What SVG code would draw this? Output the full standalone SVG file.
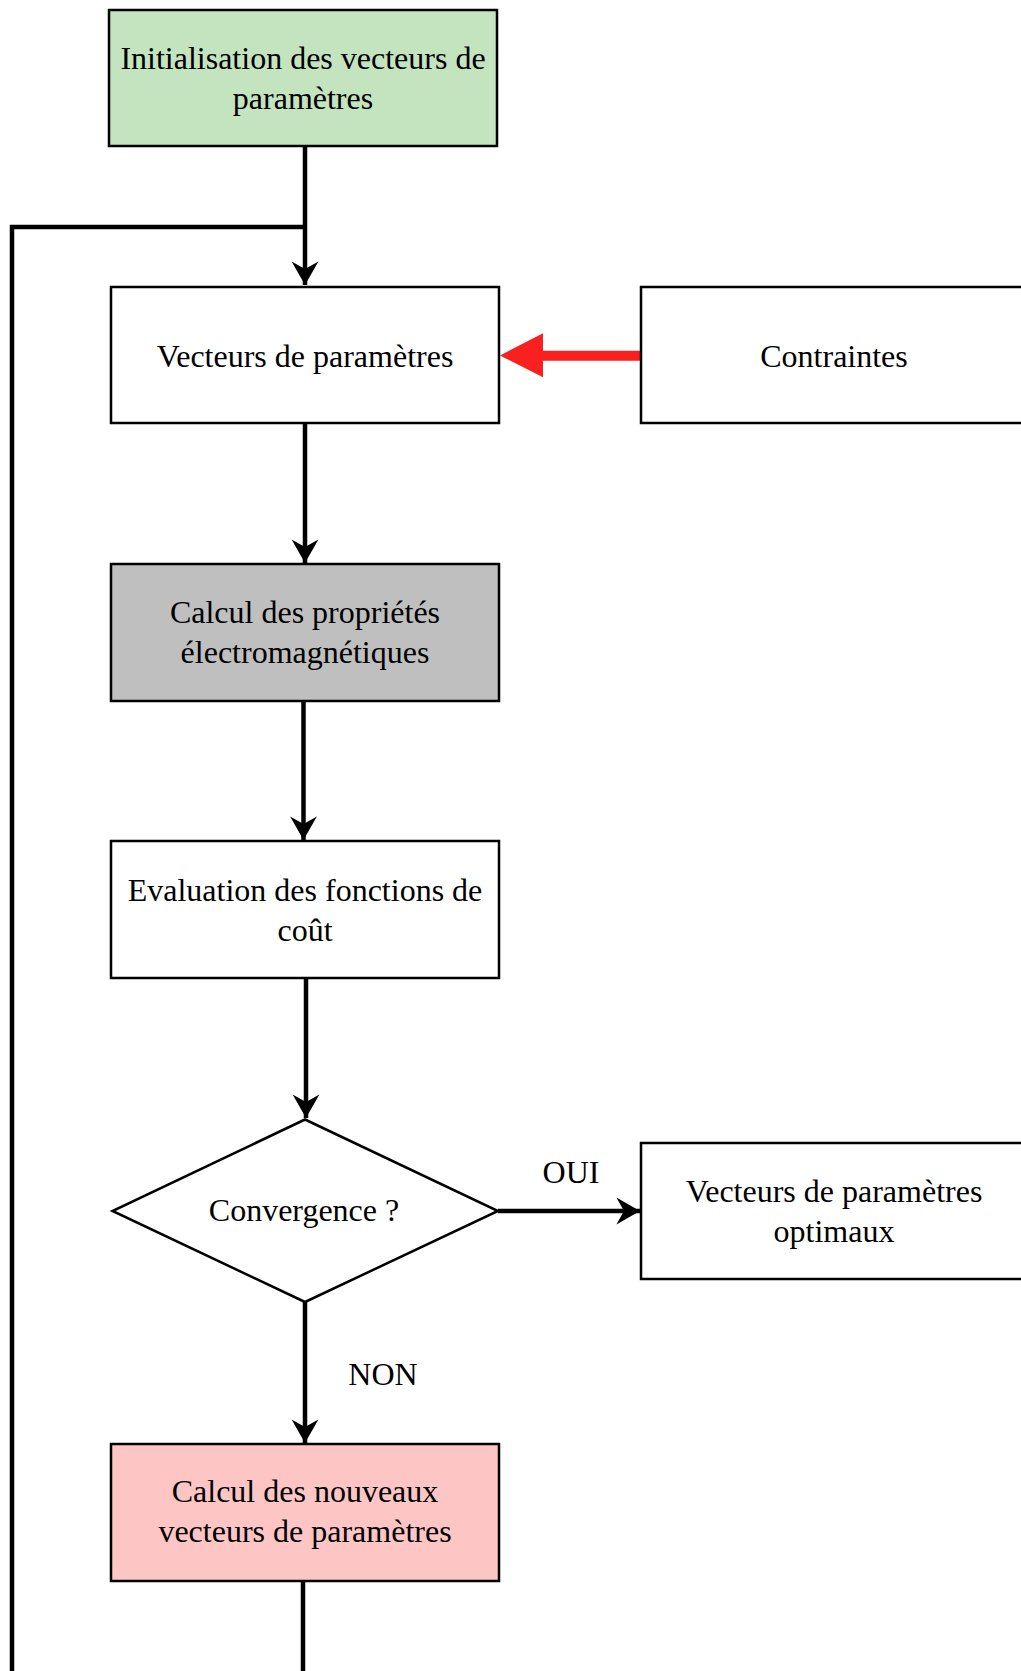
<svg xmlns="http://www.w3.org/2000/svg" width="1021" height="1671" viewBox="0 0 1021 1671">
<style>
.box{stroke:#000;stroke-width:2.5}
.t{font-family:"Liberation Serif","Times New Roman",serif;font-size:32px;fill:#000;text-anchor:middle}
.c{fill:none;stroke:#000;stroke-width:4.5}
</style>
<defs>
<marker id="ah" markerUnits="userSpaceOnUse" markerWidth="30" markerHeight="30" viewBox="-24 -14 26 28" refX="0" refY="0" orient="auto" overflow="visible">
<path d="M0,0 L-22,-12.5 L-15,0 L-22,12.5 Z" fill="#000"/>
</marker>
</defs>
<g id="connectors">
<path class="c" d="M303,1581 V1690 H12 V227 H305"/>
<path class="c" d="M305,146 V285" marker-end="url(#ah)"/>
<path class="c" d="M305,423 V563" marker-end="url(#ah)"/>
<path class="c" d="M303.5,701 V840" marker-end="url(#ah)"/>
<path class="c" d="M306,978 V1118" marker-end="url(#ah)"/>
<path class="c" d="M498,1211 H640" marker-end="url(#ah)"/>
<path class="c" d="M305,1302 V1443" marker-end="url(#ah)"/>
<path d="M641,350.7 H543 V333.3 L500,355.5 L543,377.3 V360.7 H641 Z" fill="#f8211f"/>
<text class="t" x="571" y="1183">OUI</text>
<text class="t" x="383" y="1385">NON</text>
</g>
<g id="init">
<rect class="box" x="109" y="10" width="388" height="136" fill="#c3e4bf"/>
<text class="t" x="303" y="69">Initialisation des vecteurs de</text>
<text class="t" x="303" y="109">paramètres</text>
</g>
<g id="vecteurs">
<rect class="box" x="111" y="287" width="388" height="136" fill="#fff"/>
<text class="t" x="305" y="367">Vecteurs de paramètres</text>
</g>
<g id="contraintes">
<rect class="box" x="641" y="287" width="392" height="136" fill="#fff"/>
<text class="t" x="834" y="367">Contraintes</text>
</g>
<g id="calcul">
<rect class="box" x="111" y="564" width="388" height="137" fill="#bfbfbf"/>
<text class="t" x="305" y="623">Calcul des propriétés</text>
<text class="t" x="305" y="663">électromagnétiques</text>
</g>
<g id="evaluation">
<rect class="box" x="111" y="841" width="388" height="137" fill="#fff"/>
<text class="t" x="305" y="901">Evaluation des fonctions de</text>
<text class="t" x="305" y="941">coût</text>
</g>
<g id="convergence">
<path class="box" d="M305,1119.5 L498,1211 L305,1302 L112.5,1211 Z" fill="#fff"/>
<text class="t" x="304" y="1221">Convergence ?</text>
</g>
<g id="optimaux">
<rect class="box" x="641" y="1143" width="392" height="136" fill="#fff"/>
<text class="t" x="834" y="1202">Vecteurs de paramètres</text>
<text class="t" x="834" y="1242">optimaux</text>
</g>
<g id="nouveaux">
<rect class="box" x="111" y="1444" width="388" height="137" fill="#fdc6c5"/>
<text class="t" x="305" y="1502">Calcul des nouveaux</text>
<text class="t" x="305" y="1542">vecteurs de paramètres</text>
</g>
</svg>
